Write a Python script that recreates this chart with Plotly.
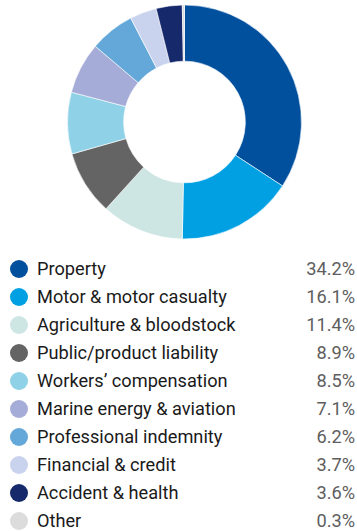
import plotly.graph_objects as go

# Premium split by class of business
categories = [
    "Property", "Motor & motor casualty", "Agriculture & bloodstock",
    "Public/product liability", "Workers’ compensation",
    "Marine energy & aviation", "Professional indemnity",
    "Financial & credit", "Accident & health", "Other",
]
shares = [34.2, 16.1, 11.4, 8.9, 8.5, 7.1, 6.2, 3.7, 3.6, 0.3]
colors = [
    "#00509e", "#00a0e3", "#cde6e3", "#646464", "#8fd2e7",
    "#a6acd8", "#63a8d8", "#c9d3ee", "#16296a", "#dcdcdc",
]

W, H = 357, 531
cx, cy, r = 184.5, 122, 117

fig = go.Figure()

fig.add_trace(go.Pie(
    values=shares,
    labels=categories,
    marker=dict(colors=colors, line=dict(color="white", width=0.6)),
    hole=0.52,
    sort=False,
    direction="clockwise",
    rotation=0,
    textinfo="none",
    hoverinfo="label+percent",
    showlegend=False,
    domain=dict(x=[(cx - r) / W, (cx + r) / W], y=[1 - (cy + r) / H, 1 - (cy - r) / H]),
))

# Legend table drawn on a pixel-scaled cartesian layer
row_y = [269 + 28 * i for i in range(len(categories))]
fig.add_trace(go.Scatter(
    x=[19] * len(categories), y=row_y, mode="markers",
    marker=dict(size=18, color=colors, line=dict(width=0)),
    hoverinfo="skip", showlegend=False, cliponaxis=False,
))
fig.add_trace(go.Scatter(
    x=[37] * len(categories), y=[y + 1 for y in row_y], mode="text",
    text=categories, textposition="middle right",
    textfont=dict(family="Roboto", size=18.2, color="#1a1a1a"),
    hoverinfo="skip", showlegend=False, cliponaxis=False,
))
fig.add_trace(go.Scatter(
    x=[355] * len(categories), y=[y + 1 for y in row_y], mode="text",
    text=[f"{v:.1f}%" for v in shares], textposition="middle left",
    textfont=dict(family="Roboto", size=18.2, color="#5e5e5e"),
    hoverinfo="skip", showlegend=False, cliponaxis=False,
))

fig.update_layout(
    width=W, height=H,
    margin=dict(l=0, r=0, t=0, b=0),
    paper_bgcolor="white", plot_bgcolor="white",
    xaxis=dict(range=[0, W], visible=False, fixedrange=True),
    yaxis=dict(range=[H, 0], visible=False, fixedrange=True),
)

fig.write_html("out.html")
